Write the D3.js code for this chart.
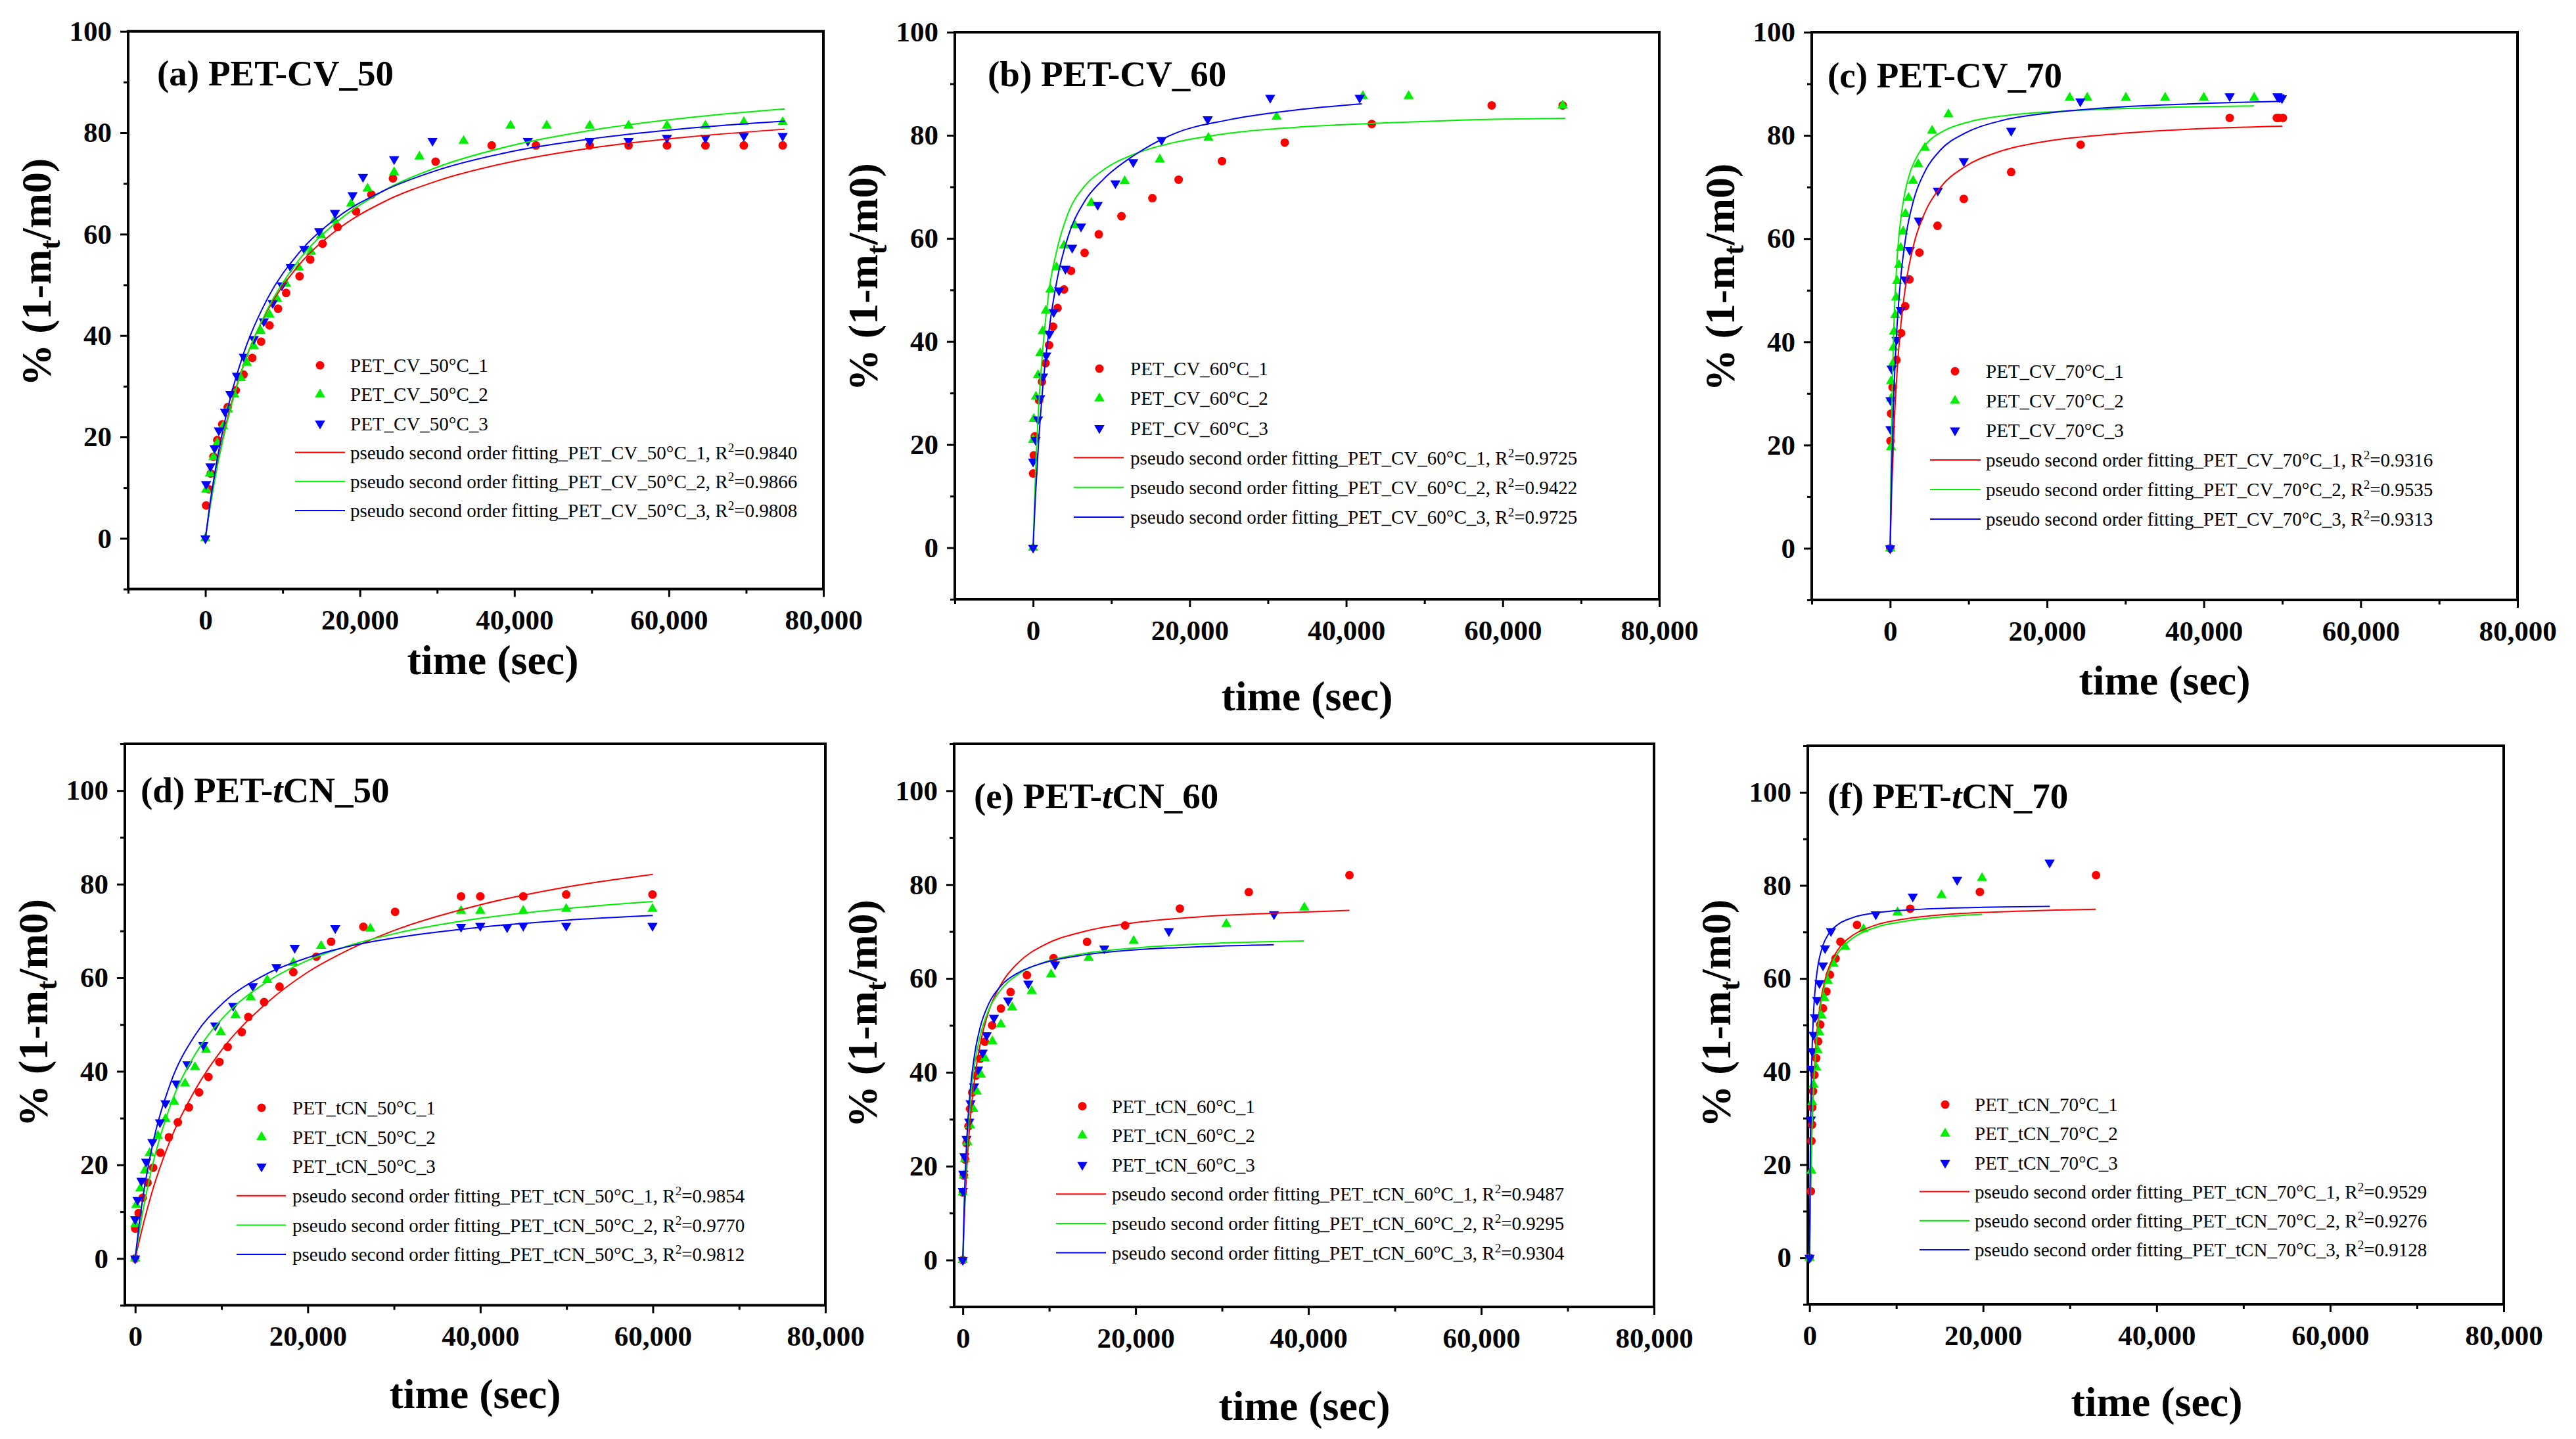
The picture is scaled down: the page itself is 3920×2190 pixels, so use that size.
<!DOCTYPE html>
<html>
<head>
<meta charset="utf-8">
<script src="https://cdn.jsdelivr.net/npm/d3@7"></script>
<style>
  html, body { margin: 0; padding: 0; background: #fff; }
  svg { display: block; font-family: 'Liberation Serif', 'Times New Roman', serif; }
</style>
</head>
<body>
<svg id="chart" width="3920" height="2190"></svg>
<script>
// Data: [time (sec), % (1 - mt/m0)]

// (a) PET-CV_50
const cv50_1 = [[100,6.5],[450,9.7],[700,12.8],[1040,16.1],[1540,19.4],[2190,22.5],[2890,25.9],[3930,29.2],[4930,32.3],[6070,35.6],[7210,38.8],[8310,42.0],[9400,45.3],[10450,48.4],[12190,51.7],[13580,55.0],[15170,58.1],[17110,61.4],[19500,64.5],[21490,67.8],[24280,71.0],[29800,74.3],[37060,77.5],[42790,77.5],[49750,77.5],[54780,77.5],[59750,77.5],[64730,77.5],[69700,77.5],[74730,77.5]];
const cv50_2 = [[0,0],[100,9.6],[600,12.8],[1045,16.0],[1540,18.8],[2290,22.1],[2940,25.4],[3730,28.4],[4580,31.6],[5370,34.6],[6270,37.9],[7160,40.9],[8310,44.1],[9300,47.2],[10450,50.2],[12090,53.4],[13680,56.5],[14970,59.8],[16720,62.7],[18860,66.0],[21000,69.0],[24430,72.2],[27710,75.3],[33430,78.4],[39500,81.4],[44180,81.4],[49750,81.4],[54780,81.4],[59750,81.4],[64730,81.4],[69700,82.1],[74730,82.1]];
const cv50_3 = [[0,0],[100,10.7],[650,14.2],[1190,17.8],[1740,21.3],[2540,25.0],[3230,28.5],[4080,32.1],[4980,35.8],[6270,39.3],[7560,42.8],[8710,46.4],[9900,49.9],[11050,53.5],[12790,57.1],[14730,60.6],[16770,64.2],[19050,67.7],[20400,71.3],[24430,74.8],[29400,78.4],[41740,78.4],[49750,78.4],[54780,78.4],[59750,79.0],[64730,79.0],[69700,79.4],[74730,79.4]];
const cv50_fit1 = [[0,0],[500,5.3],[1500,14.2],[3000,24.5],[5000,34.5],[8000,44.8],[12000,53.7],[17000,60.8],[23000,66.3],[30000,70.5],[40000,74.4],[50000,77.0],[62000,79.1],[75000,80.7]];
const cv50_fit2 = [[0,0],[500,5.1],[1500,13.8],[3000,24.1],[5000,34.4],[8000,45.1],[12000,54.7],[17000,62.4],[23000,68.5],[30000,73.2],[40000,77.6],[50000,80.5],[62000,82.9],[75000,84.7]];
const cv50_fit3 = [[0,0],[500,5.8],[1500,15.4],[3000,26.3],[5000,36.7],[8000,47.2],[12000,56.1],[17000,63.2],[23000,68.5],[30000,72.6],[40000,76.4],[50000,78.8],[62000,80.8],[75000,82.3]];

// (b) PET-CV_60
const cv60_1 = [[0,14.4],[90,17.9],[230,21.6],[770,28.6],[1130,32.2],[1590,35.8],[2040,39.3],[2540,42.9],[3130,46.5],[3950,50.1],[4850,53.7],[6580,57.2],[8390,60.8],[11290,64.3],[15240,67.8],[18590,71.4],[24130,75.0],[32150,78.6],[43270,82.2],[58590,85.8],[67660,85.8]];
const cv60_2 = [[0,0],[0,20.9],[90,25.0],[360,29.3],[630,33.5],[910,37.7],[1220,42.0],[1630,46.0],[2220,50.1],[2990,54.4],[3950,58.6],[5310,62.6],[7440,66.9],[11700,71.1],[16190,75.3],[22400,79.5],[31110,83.6],[42130,87.6],[47980,87.6],[67660,85.8]];
const cv60_3 = [[0,0],[0,16.7],[320,20.9],[630,24.9],[910,29.0],[1270,33.2],[1680,37.3],[2090,41.5],[2630,45.7],[3310,49.9],[4130,54.1],[4990,58.2],[6120,62.3],[8250,66.5],[10520,70.7],[12790,74.8],[16420,79.1],[22310,83.1],[30290,87.3],[41720,87.3]];
const cv60_fit2 = [[0,0],[300,14.1],[700,27.0],[1200,37.8],[2000,49.5],[3000,57.5],[4500,65.0],[6500,70.0],[9000,73.3],[13000,76.4],[18000,78.6],[25000,80.4],[35000,81.7],[45000,82.4],[56000,83.0],[68000,83.3]];
const cv60_fit3 = [[0,0],[300,10.0],[700,20.4],[1200,30.5],[2000,41.8],[3000,51.5],[4500,60.5],[6500,67.0],[9000,71.5],[13000,76.2],[18000,80.3],[25000,83.0],[33000,84.8],[42000,86.1]];

// (c) PET-CV_70
const cv70_1 = [[0,0],[40,20.8],[120,26.1],[310,31.2],[810,36.5],[1390,41.7],[1920,46.9],[2460,52.1],[3730,57.3],[6040,62.5],[9390,67.7],[15430,72.9],[24290,78.2],[43300,83.4],[49310,83.4],[49580,83.4],[50080,83.4]];
const cv70_2 = [[0,0],[120,19.6],[120,29.0],[120,32.4],[310,35.7],[420,38.9],[500,42.0],[650,45.2],[770,48.6],[890,51.8],[1120,54.9],[1350,58.2],[1660,61.4],[1960,64.8],[2350,67.9],[2930,71.2],[3580,74.4],[4430,77.6],[5350,80.9],[7430,84.1],[22900,87.3],[25130,87.3],[30060,87.3],[35070,87.3],[40000,87.3],[46420,87.3]];
const cv70_3 = [[0,0],[40,23.1],[40,28.7],[190,34.8],[810,40.4],[1350,46.2],[1920,52.1],[2500,57.8],[3660,63.5],[6080,69.3],[9390,75.0],[15430,80.9],[24250,86.6],[43300,87.6],[49380,87.6],[49650,87.4],[49960,87.2]];
const cv70_fit1 = [[0,0],[200,11.3],[500,23.6],[900,34.6],[1400,43.8],[2000,51.2],[3000,58.8],[4500,65.3],[6500,70.1],[9500,73.9],[14000,76.9],[20000,78.9],[28000,80.2],[38000,81.2],[50000,81.8]];
const cv70_fit2 = [[0,0],[100,14.9],[250,29.6],[500,44.1],[800,54.1],[1200,61.8],[1800,68.3],[2600,73.1],[3600,76.4],[5000,79.0],[7000,81.0],[10000,82.6],[15000,83.9],[22000,84.7],[32000,85.3],[46400,85.7]];
const cv70_fit3 = [[0,0],[150,12.4],[400,26.7],[800,41.0],[1300,51.6],[2000,60.4],[3000,67.5],[4500,73.2],[6500,77.3],[9500,80.4],[14000,82.8],[20000,84.3],[28000,85.4],[38000,86.1],[50000,86.6]];

// (d) PET-tCN_50
const tcn50_1 = [[0,0],[0,6.4],[400,9.7],[880,13.0],[1430,16.2],[2070,19.4],[2910,22.6],[3900,25.9],[4940,29.1],[6220,32.3],[7410,35.5],[8490,38.8],[9760,42.0],[10720,45.2],[12350,48.4],[13110,51.6],[14940,54.8],[16730,58.1],[18330,61.2],[21000,64.5],[22710,67.7],[26450,70.9],[30120,74.1],[37770,77.4],[40000,77.4],[44980,77.4],[49960,77.8],[59960,77.8]];
const tcn50_2 = [[0,0],[0,7.3],[120,11.4],[600,15.0],[1120,18.8],[1670,22.5],[2630,26.2],[3510,29.8],[4500,33.5],[5780,37.4],[6930,40.9],[8210,44.6],[9920,48.4],[11630,52.0],[13390,55.8],[15300,59.5],[18330,63.2],[21550,66.8],[27250,70.5],[37770,74.3],[40000,74.3],[44980,74.3],[49960,74.7],[59960,74.7]];
const tcn50_3 = [[0,0],[0,8.4],[280,12.5],[720,16.6],[1270,20.7],[1990,24.9],[2870,29.1],[3510,33.2],[4780,37.4],[6060,41.5],[7890,45.6],[9280,49.8],[11350,54.0],[13630,58.2],[16370,62.3],[18490,66.4],[23190,70.6],[37770,70.9],[40000,71.1],[43110,70.8],[44980,71.1],[49960,71.1],[59960,71.1]];
const tcn50_fit1 = [[0,0],[500,4.0],[1000,7.8],[2000,14.5],[4000,25.0],[7000,36.2],[10000,44.5],[15000,54.2],[20000,61.2],[25000,66.2],[30000,70.1],[40000,75.6],[50000,79.4],[60000,82.1]];
const tcn50_fit2 = [[0,0],[500,6.0],[1000,11.2],[2000,19.9],[4000,32.3],[7000,43.8],[10000,51.1],[15000,58.8],[20000,63.7],[25000,67.0],[30000,69.4],[40000,72.7],[50000,74.8],[60000,76.3]];
const tcn50_fit3 = [[0,0],[500,7.9],[1000,14.3],[2000,24.2],[4000,37.0],[7000,47.9],[10000,54.3],[15000,60.6],[20000,64.3],[25000,66.8],[30000,68.5],[40000,70.8],[50000,72.3],[60000,73.3]];

// (e) PET-tCN_60
const tcn60_1 = [[0,0],[0,14.4],[120,18.0],[280,21.4],[430,24.9],[650,28.5],[840,32.2],[1090,35.7],[1520,39.3],[2020,42.9],[2550,46.5],[3390,50.0],[4410,53.6],[5530,57.1],[7420,60.7],[10500,64.3],[14380,67.8],[18790,71.3],[25120,74.9],[33100,78.4],[44750,82.0]];
const tcn60_2 = [[0,0],[0,14.4],[120,18.0],[250,21.5],[530,25.1],[840,28.7],[1210,32.2],[1610,35.9],[2080,39.5],[2550,43.0],[3420,46.6],[4410,50.2],[5710,53.8],[7980,57.3],[10220,60.9],[14570,64.4],[19780,68.0],[30500,71.6],[39530,75.1]];
const tcn60_3 = [[0,0],[0,14.7],[60,18.4],[190,22.1],[430,25.8],[750,29.5],[900,33.4],[1300,37.0],[1770,40.6],[2300,44.2],[2760,47.9],[3600,51.6],[5250,55.3],[7580,58.9],[10680,63.0],[16370,66.4],[23850,70.1],[36020,73.7]];
const tcn60_fit1 = [[0,0],[200,9.9],[500,20.8],[900,30.7],[1400,39.1],[2000,45.9],[3000,53.0],[4500,59.0],[6500,63.5],[9500,67.2],[14000,70.0],[20000,71.9],[28000,73.2],[36000,73.9],[44750,74.5]];
const tcn60_fit2 = [[0,0],[200,12.5],[500,24.6],[900,34.5],[1400,42.1],[2000,47.7],[3000,53.3],[4500,57.8],[6500,61.0],[9500,63.5],[14000,65.3],[20000,66.5],[28000,67.4],[39500,68.0]];
const tcn60_fit3 = [[0,0],[200,14.1],[500,27.0],[900,36.9],[1400,44.2],[2000,49.5],[3000,54.6],[4500,58.6],[6500,61.3],[9500,63.4],[14000,65.0],[20000,66.1],[28000,66.8],[36000,67.2]];

// (f) PET-tCN_70
const tcn70_1 = [[0,0],[150,14.3],[220,25.1],[280,28.6],[310,32.3],[400,35.8],[560,39.3],[770,42.9],[990,46.5],[1240,50.1],[1550,53.6],[1950,57.2],[2350,60.8],[3000,64.3],[3560,67.9],[5470,71.5],[11600,75.0],[19630,78.6],[33020,82.2]];
const tcn70_2 = [[0,0],[220,18.7],[310,33.4],[460,37.2],[770,40.9],[930,44.6],[1140,48.4],[1390,52.0],[1700,55.8],[2100,59.5],[2750,63.2],[4110,66.8],[6220,70.6],[10140,74.2],[15210,77.9],[19880,81.6]];
const tcn70_3 = [[0,0],[150,29.7],[220,40.6],[310,44.4],[460,47.9],[620,51.7],[870,55.4],[1140,59.0],[1550,62.8],[1790,66.5],[2470,70.2],[7640,73.8],[11900,77.6],[17010,81.2],[27670,84.9]];
const tcn70_fit1 = [[0,0],[100,13.0],[250,25.8],[500,38.5],[800,47.3],[1200,54.1],[1800,59.8],[2600,64.0],[3600,67.0],[5000,69.3],[7500,71.4],[11000,72.8],[16000,73.8],[23000,74.4],[33000,74.9]];
const tcn70_fit2 = [[0,0],[100,12.4],[250,24.9],[500,37.5],[800,46.2],[1200,53.1],[1800,59.0],[2600,63.3],[3600,66.3],[5000,68.7],[7500,70.9],[11000,72.3],[15000,73.2],[19900,73.8]];
const tcn70_fit3 = [[0,0],[50,14.8],[120,28.0],[250,41.7],[450,52.2],[700,58.8],[1000,63.1],[1500,66.9],[2200,69.6],[3200,71.5],[5000,73.1],[8000,74.2],[13000,74.9],[20000,75.3],[27700,75.5]];

// Text
const sampleNames = ['PET_CV_50', 'PET_CV_60', 'PET_CV_70', 'PET_tCN_50', 'PET_tCN_60', 'PET_tCN_70'];
const r2Values = [
  ['0.9840', '0.9866', '0.9808'],
  ['0.9725', '0.9422', '0.9725'],
  ['0.9316', '0.9535', '0.9313'],
  ['0.9854', '0.9770', '0.9812'],
  ['0.9487', '0.9295', '0.9304'],
  ['0.9529', '0.9276', '0.9128']
];
const panelTitles = [
  [['(a) PET-CV_50', false]],
  [['(b) PET-CV_60', false]],
  [['(c) PET-CV_70', false]],
  [['(d) PET-', false], ['t', true], ['CN_50', false]],
  [['(e) PET-', false], ['t', true], ['CN_60', false]],
  [['(f) PET-', false], ['t', true], ['CN_70', false]]
];
const xTickValues = [0, 20000, 40000, 60000, 80000];
const xMinorValues = [-10000, 10000, 30000, 50000, 70000];
const yTickValues = [0, 20, 40, 60, 80, 100];
const yMinorValues = [-10, 10, 30, 50, 70, 90, 110];

const seriesColors = ['#ff0000', '#00ee00', '#0000ff'];

// Layout of each panel (pixel positions in the page)
const layout = [
  { box: [195, 47.7, 1253, 896.5], xMin: -10000, yMax: 100, label: [239, 130], xTitle: [750, 1026],
    legend: { sx: 487, l0: 449, l1: 525, tx: 533, y0: 556, dy: 44.2 } },
  { box: [1453, 49, 2525, 912], xMin: -10000, yMax: 100, label: [1503, 131], xTitle: [1989, 1081],
    legend: { sx: 1673, l0: 1634, l1: 1710, tx: 1720, y0: 561, dy: 45.2 } },
  { box: [2757, 49, 3831, 913], xMin: -10000, yMax: 100, label: [2781, 133], xTitle: [3294, 1057],
    legend: { sx: 2975, l0: 2937, l1: 3014, tx: 3022, y0: 565, dy: 45 } },
  { box: [190, 1132, 1256, 1986.5], xMin: -1200, yMax: 110, label: [214, 1221], xTitle: [723, 2143],
    legend: { sx: 398, l0: 360, l1: 435, tx: 445, y0: 1686, dy: 44.6 } },
  { box: [1452, 1132, 2517, 1989], xMin: -1000, yMax: 110, label: [1482, 1230], xTitle: [1985, 2161],
    legend: { sx: 1647, l0: 1607, l1: 1683, tx: 1692, y0: 1683.5, dy: 44.6 } },
  { box: [2751, 1135, 3810, 1985], xMin: -200, yMax: 110, label: [2781, 1230], xTitle: [3282, 2155],
    legend: { sx: 2960, l0: 2921, l1: 2997, tx: 3005, y0: 1681, dy: 44.2 } }
];

const pointSets = [
  [cv50_1, cv50_2, cv50_3],
  [cv60_1, cv60_2, cv60_3],
  [cv70_1, cv70_2, cv70_3],
  [tcn50_1, tcn50_2, tcn50_3],
  [tcn60_1, tcn60_2, tcn60_3],
  [tcn70_1, tcn70_2, tcn70_3]
];
// the red fit of (b) is not visible in the figure
const fitSets = [
  [cv50_fit1, cv50_fit2, cv50_fit3],
  [null, cv60_fit2, cv60_fit3],
  [cv70_fit1, cv70_fit2, cv70_fit3],
  [tcn50_fit1, tcn50_fit2, tcn50_fit3],
  [tcn60_fit1, tcn60_fit2, tcn60_fit3],
  [tcn70_fit1, tcn70_fit2, tcn70_fit3]
];

const svg = d3.select('#chart');

function symbolFor(i) {
  if (i === 0) return null;
  return d3.symbol().type(d3.symbolTriangle).size(105)();
}

function drawPanel(p, i) {
  const [left, top, right, bottom] = p.box;
  const x = d3.scaleLinear().domain([p.xMin, 80000]).range([left, right]);
  const y = d3.scaleLinear().domain([-10, p.yMax]).range([bottom, top]);
  const g = svg.append('g');

  // Axes (ticks outward, no domain line; the frame is drawn as a rect)
  const styleAxis = sel => {
    sel.select('.domain').remove();
    sel.selectAll('line').attr('stroke', '#000').attr('stroke-width', 3);
    sel.selectAll('text').attr('fill', '#000')
      .style('font-size', '43px').style('font-weight', 'bold')
      .style('font-family', "'Liberation Serif', serif");
  };

  g.append('g').attr('transform', `translate(0,${bottom})`)
    .call(d3.axisBottom(x).tickValues(xTickValues).tickSize(12).tickPadding(19).tickFormat(d3.format(',')))
    .call(styleAxis);
  g.append('g').attr('transform', `translate(0,${bottom})`)
    .call(d3.axisBottom(x).tickValues(xMinorValues.filter(v => v >= p.xMin)).tickSize(7).tickFormat(''))
    .call(styleAxis);
  g.append('g').attr('transform', `translate(${left},0)`)
    .call(d3.axisLeft(y).tickValues(yTickValues).tickSize(12).tickPadding(13))
    .call(styleAxis);
  g.append('g').attr('transform', `translate(${left},0)`)
    .call(d3.axisLeft(y).tickValues(yMinorValues.filter(v => v <= p.yMax)).tickSize(7).tickFormat(''))
    .call(styleAxis);

  g.append('rect')
    .attr('x', left).attr('y', top)
    .attr('width', right - left).attr('height', bottom - top)
    .attr('fill', 'none').attr('stroke', '#000').attr('stroke-width', 4);

  // Data points
  pointSets[i].forEach((pts, s) => {
    const sg = g.append('g');
    if (s === 0) {
      sg.selectAll('circle').data(pts).enter().append('circle')
        .attr('cx', d => x(d[0])).attr('cy', d => y(d[1])).attr('r', 6.5)
        .attr('fill', seriesColors[s]);
    } else {
      sg.selectAll('path').data(pts).enter().append('path')
        .attr('d', symbolFor(s))
        .attr('transform', d => `translate(${x(d[0])},${y(d[1])})` + (s === 2 ? ' rotate(180)' : ''))
        .attr('fill', seriesColors[s]);
    }
  });

  // Fitted curves
  const line = d3.line().x(d => x(d[0])).y(d => y(d[1])).curve(d3.curveMonotoneX);
  fitSets[i].forEach((fit, s) => {
    if (!fit) return;
    g.append('path').datum(fit)
      .attr('d', line).attr('fill', 'none')
      .attr('stroke', seriesColors[s]).attr('stroke-width', 2);
  });

  // Panel title
  const title = g.append('text')
    .attr('x', p.label[0]).attr('y', p.label[1])
    .style('font-size', '55px').style('font-weight', 'bold');
  panelTitles[i].forEach(([txt, it]) => {
    title.append('tspan').text(txt).style('font-style', it ? 'italic' : 'normal');
  });

  // Axis titles
  g.append('text')
    .attr('x', p.xTitle[0]).attr('y', p.xTitle[1])
    .attr('text-anchor', 'middle')
    .style('font-size', '64px').style('font-weight', 'bold')
    .text('time (sec)');

  const yt = g.append('text')
    .attr('transform', `translate(${left - 118},${y(52.5)}) rotate(-90)`)
    .attr('text-anchor', 'middle')
    .style('font-size', '64px').style('font-weight', 'bold');
  yt.append('tspan').text('% (1-m');
  yt.append('tspan').text('t').style('font-size', '44px').attr('dy', 14);
  yt.append('tspan').text('/m0)').attr('dy', -14);

  // Legend
  const L = p.legend;
  const name = sampleNames[i];
  for (let s = 0; s < 3; s++) {
    const ry = L.y0 + s * L.dy;
    if (s === 0) {
      g.append('circle').attr('cx', L.sx).attr('cy', ry).attr('r', 6.5).attr('fill', seriesColors[s]);
    } else {
      g.append('path').attr('d', symbolFor(s))
        .attr('transform', `translate(${L.sx},${ry})` + (s === 2 ? ' rotate(180)' : ''))
        .attr('fill', seriesColors[s]);
    }
    g.append('text').attr('x', L.tx).attr('y', ry).attr('dy', '0.35em')
      .style('font-size', '29px')
      .text(`${name}°C_${s + 1}`);
  }
  for (let s = 0; s < 3; s++) {
    const ry = L.y0 + (s + 3) * L.dy;
    g.append('line').attr('x1', L.l0).attr('x2', L.l1).attr('y1', ry).attr('y2', ry)
      .attr('stroke', seriesColors[s]).attr('stroke-width', 2);
    const t = g.append('text').attr('x', L.tx).attr('y', ry).attr('dy', '0.35em')
      .style('font-size', '29px');
    t.append('tspan').text(`pseudo second order fitting_${name}°C_${s + 1}, R`);
    t.append('tspan').text('2').style('font-size', '19px').attr('dy', -11);
    t.append('tspan').text(`=${r2Values[i][s]}`).attr('dy', 11);
  }
}

layout.forEach(drawPanel);
</script>
</body>
</html>
